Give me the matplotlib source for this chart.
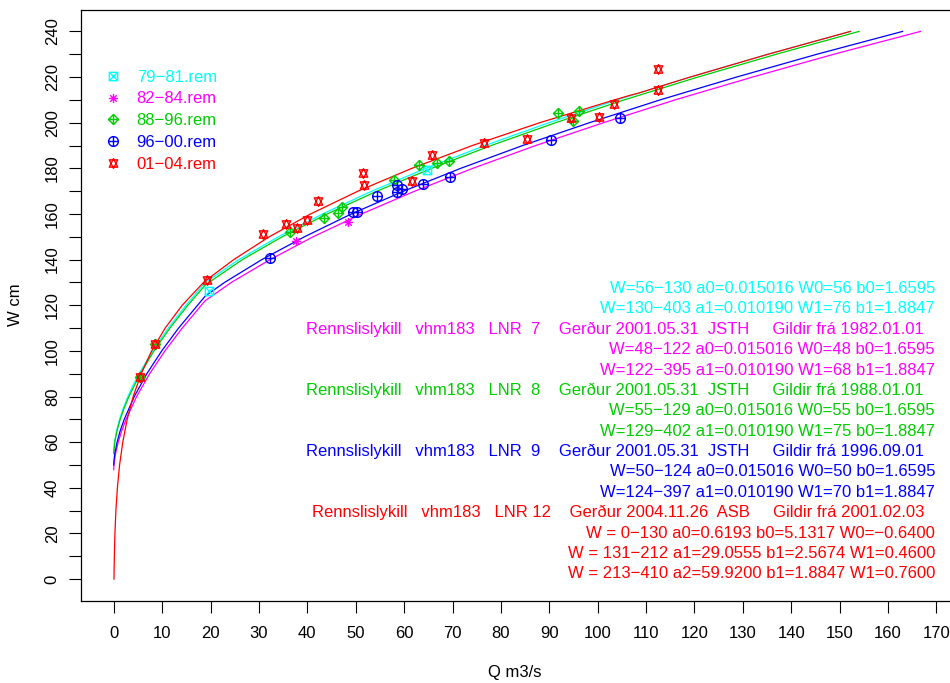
import matplotlib
matplotlib.use("Agg")
import matplotlib.pyplot as plt
from matplotlib.path import Path

plt.rcParams['font.family'] = ['Liberation Sans', 'DejaVu Sans']

# ---------------- data ----------------
series_names = ["79\u221281.rem", "82\u221284.rem", "88\u221296.rem", "96\u221200.rem", "01\u221204.rem"]
series_colors = ["#00FFFF", "#FF00FF", "#00CD00", "#0000FF", "#FF0000"]

# rating curves (Q m3/s vs W cm)
cyan_W = [56, 60, 65, 70, 75, 80, 85, 90, 100, 110, 120, 130, 140, 150, 160, 170, 180, 190, 200, 210, 220, 230, 240]
cyan_Q = [0, 0.15, 0.58, 1.20, 1.99, 2.93, 4.01, 5.23, 8.02, 11.26, 14.94, 18.9, 25.85, 34.0, 43.15, 53.3, 64.5, 76.7, 89.9, 104.0, 119.2, 135.2, 152.3]

mag_W = [48, 50, 55, 60, 65, 70, 80, 90, 100, 110, 122, 130, 140, 150, 160, 170, 180, 190, 200, 210, 220, 230, 240]
mag_Q = [0, 0.05, 0.38, 0.93, 1.66, 2.54, 4.73, 7.42, 10.58, 14.16, 18.9, 24.3, 32.3, 41.2, 51.2, 62.2, 74.2, 87.2, 101.2, 116.0, 132.0, 148.8, 166.7]

green_W = [55, 60, 65, 70, 75, 80, 90, 100, 110, 120, 129, 140, 150, 160, 170, 180, 190, 200, 210, 220, 230, 240]
green_Q = [0, 0.22, 0.69, 1.34, 2.17, 3.14, 5.48, 8.32, 11.61, 15.32, 18.98, 26.6, 34.8, 44.1, 54.4, 65.7, 78.0, 91.3, 105.5, 120.7, 136.9, 154.0]

blue_W = [50, 52, 55, 60, 65, 70, 80, 90, 100, 110, 124, 130, 140, 150, 160, 170, 180, 190, 200, 210, 220, 230, 240]
blue_Q = [0, 0.05, 0.22, 0.69, 1.34, 2.17, 4.25, 6.84, 9.92, 13.40, 18.9, 22.9, 30.6, 39.4, 49.1, 59.9, 71.7, 84.5, 98.3, 112.9, 128.7, 145.3, 163.0]

red_W = [0, 5, 10, 20, 30, 40, 50, 60, 70, 80, 90, 100, 110, 120, 130, 131, 140, 150, 160, 170, 180, 190, 200, 210, 212, 213, 220, 230, 240]
red_Q = [0.06, 0.09, 0.13, 0.25, 0.45, 0.76, 1.21, 1.87, 2.78, 4.02, 5.68, 7.84, 10.63, 14.16, 18.56, 19.14, 24.79, 32.13, 40.67, 50.47, 61.60, 74.10, 88.04, 103.5, 106.7, 108.5, 119.1, 135.2, 152.2]

# measurements (Q, W)
m7981_Q = [19.7, 64.7]
m7981_W = [126.4, 179.3]
m8284_Q = [37.7, 48.4]
m8284_W = [148.2, 156.6]
m8896_Q = [5.4, 8.6, 36.4, 43.5, 46.3, 47.1, 58.0, 63.0, 66.8, 69.2, 91.7, 94.8, 96.1]
m8896_W = [88.6, 102.9, 152.1, 158.1, 160.3, 163.1, 174.9, 181.5, 182.2, 183.3, 204.4, 200.6, 205.1]
m9600_Q = [32.2, 49.5, 50.2, 54.4, 58.5, 58.5, 59.5, 63.8, 69.4, 90.4, 104.7]
m9600_W = [140.8, 161.0, 161.0, 167.9, 172.6, 169.7, 170.8, 173.0, 176.0, 192.3, 201.9]
m0104_Q = [5.4, 8.6, 19.2, 30.8, 35.5, 37.8, 39.9, 42.3, 51.5, 51.8, 61.6, 65.7, 76.6, 85.3, 94.4, 100.3, 103.3, 112.5, 112.5]
m0104_W = [88.6, 102.9, 131.0, 151.1, 155.5, 153.7, 157.4, 165.7, 178.1, 172.6, 174.5, 185.7, 191.0, 193.0, 202.2, 202.5, 208.4, 214.3, 223.7]

x_ticks = list(range(0, 171, 10))
y_ticks = list(range(0, 241, 10))
y_ticklabels = [str(v) if v % 20 == 0 else "" for v in y_ticks]

info_lines = [
    ("W=56\u2212130 a0=0.015016 W0=56 b0=1.6595", 0, "p"),
    ("W=130\u2212403 a1=0.010190 W1=76 b1=1.8847", 0, "p"),
    ("Rennslislykill   vhm183   LNR  7    Ger\u00f0ur 2001.05.31  JSTH     Gildir fr\u00e1 1982.01.01", 1, "h"),
    ("W=48\u2212122 a0=0.015016 W0=48 b0=1.6595", 1, "p"),
    ("W=122\u2212395 a1=0.010190 W1=68 b1=1.8847", 1, "p"),
    ("Rennslislykill   vhm183   LNR  8    Ger\u00f0ur 2001.05.31  JSTH     Gildir fr\u00e1 1988.01.01", 2, "h"),
    ("W=55\u2212129 a0=0.015016 W0=55 b0=1.6595", 2, "p"),
    ("W=129\u2212402 a1=0.010190 W1=75 b0=1.8847", 2, "p"),
    ("Rennslislykill   vhm183   LNR  9    Ger\u00f0ur 2001.05.31  JSTH     Gildir fr\u00e1 1996.09.01", 3, "h"),
    ("W=50\u2212124 a0=0.015016 W0=50 b0=1.6595", 3, "p"),
    ("W=124\u2212397 a1=0.010190 W1=70 b1=1.8847", 3, "p"),
    ("Rennslislykill   vhm183   LNR 12    Ger\u00f0ur 2004.11.26  ASB     Gildir fr\u00e1 2001.02.03", 4, "h"),
    ("W = 0\u2212130 a0=0.6193 b0=5.1317 W0=\u22120.6400", 4, "p"),
    ("W = 131\u2212212 a1=29.0555 b1=2.5674 W1=0.4600", 4, "p"),
    ("W = 213\u2212410 a2=59.9200 b1=1.8847 W1=0.7600", 4, "p"),
]

# ---------------- markers (R pch 7, 8, 9, 10, 11) ----------------
def make_path(polys=(), segs=()):
    verts, codes = [], []
    for poly in polys:
        verts += list(poly) + [poly[0]]
        codes += [Path.MOVETO] + [Path.LINETO] * (len(poly) - 1) + [Path.CLOSEPOLY]
    for a, b in segs:
        verts += [a, b]
        codes += [Path.MOVETO, Path.LINETO]
    return Path(verts, codes)

sq_x = make_path(polys=[[(-0.5, -0.5), (0.5, -0.5), (0.5, 0.5), (-0.5, 0.5)]],
                 segs=[((-0.5, -0.5), (0.5, 0.5)), ((-0.5, 0.5), (0.5, -0.5))])
d = 0.354
asterisk = make_path(segs=[((-0.5, 0), (0.5, 0)), ((0, -0.5), (0, 0.5)),
                           ((-d, -d), (d, d)), ((-d, d), (d, -d))])
dia_plus = make_path(polys=[[(0, -0.5), (0.5, 0), (0, 0.5), (-0.5, 0)]],
                     segs=[((-0.5, 0), (0.5, 0)), ((0, -0.5), (0, 0.5))])
uc = Path.unit_circle()
circ = Path(uc.vertices * 0.5, uc.codes)
circ_plus = Path.make_compound_path(circ, make_path(segs=[((-0.5, 0), (0.5, 0)), ((0, -0.5), (0, 0.5))]))
r, yc, xc = 0.583, 0.437, 0.505
tri_ud = make_path(polys=[[(0, r), (xc, -yc), (-xc, -yc)], [(0, -r), (xc, yc), (-xc, yc)]])

markers = [sq_x, asterisk, dia_plus, circ_plus, tri_ud]
msizes = [6.0, 6.6, 7.2, 7.0, 7.0]

# ---------------- figure ----------------
W_px, H_px = 950, 683
fig = plt.figure(figsize=(9.5, 6.83), dpi=100)
left, right, bottom, top = 81, 954.4, 601, 9.5
ax = fig.add_axes([left / W_px, (H_px - bottom) / H_px, (right - left) / W_px, (bottom - top) / H_px])
ax.set_xlim(-6.76, 173.7)
ax.set_ylim(-9.6, 249.6)

curves = [(cyan_Q, cyan_W), (mag_Q, mag_W), (green_Q, green_W), (blue_Q, blue_W), (red_Q, red_W)]
for (q, w), c in zip(curves, series_colors):
    ax.plot(q, w, color=c, lw=0.9, zorder=2)

meas = [(m7981_Q, m7981_W), (m8284_Q, m8284_W), (m8896_Q, m8896_W), (m9600_Q, m9600_W), (m0104_Q, m0104_W)]
handles = []
for (q, w), c, mk, ms, name in zip(meas, series_colors, markers, msizes, series_names):
    ln, = ax.plot(q, w, linestyle="none", marker=mk, markersize=ms, markerfacecolor="none",
                  markeredgecolor=c, markeredgewidth=1.0, color=c, zorder=3, label=name)
    handles.append(ln)

# text block
for i, (txt, ci, kind) in enumerate(info_lines):
    yv = 127.3 - 8.93 * i
    xv = 169.7 if kind == "p" else 167.4
    ax.text(xv, yv, txt, color=series_colors[ci], fontsize=12, ha="right", va="center")

leg = ax.legend(handles=handles, loc="upper left",
                bbox_to_anchor=(105 / W_px, 1 - 69.5 / H_px), bbox_transform=fig.transFigure,
                frameon=False, fontsize=12, handlelength=1.0, handletextpad=0.9,
                labelspacing=0.41, borderpad=0, borderaxespad=0, numpoints=1,
                labelcolor="linecolor")

ax.set_xticks(x_ticks)
ax.set_xticklabels([str(v) for v in x_ticks])
ax.set_yticks(y_ticks)
ax.set_yticklabels(y_ticklabels)
ax.tick_params(axis="both", direction="out", length=8.3, width=0.8, labelsize=12, colors="black")
ax.tick_params(axis="x", pad=9.5)
ax.tick_params(axis="y", pad=7, labelrotation=90)
for lbl in ax.get_yticklabels():
    lbl.set_va("center")
for sp in ax.spines.values():
    sp.set_linewidth(0.9)

fig.text(515 / W_px, 1 - 672 / H_px, "Q m3/s", fontsize=12, ha="center", va="center")
fig.text(15 / W_px, 1 - 305 / H_px, "W cm", fontsize=12, ha="center", va="center", rotation=90)

fig.savefig("out.png", dpi=100)
